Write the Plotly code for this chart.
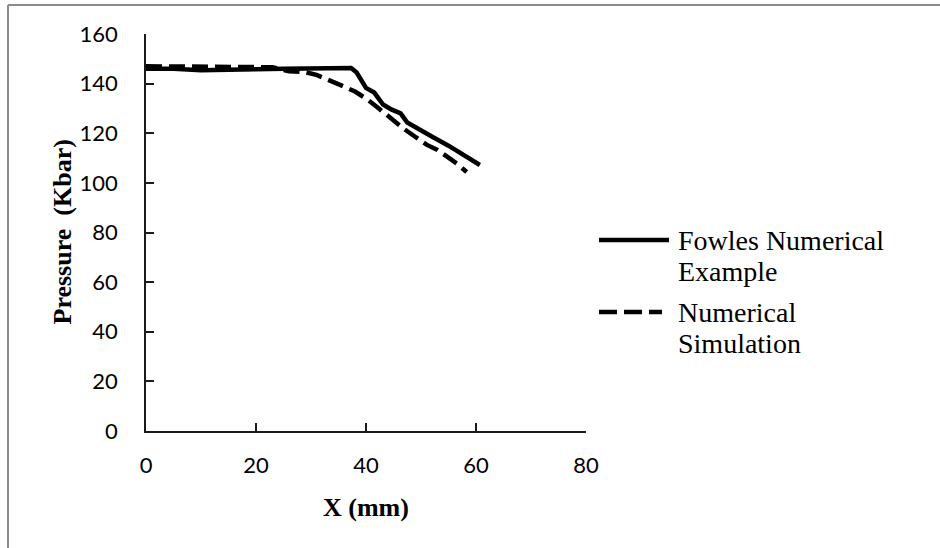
import plotly.graph_objects as go

# ---- data ----
fowles_x = [0, 5, 10, 15, 20, 25, 30, 35, 37.3, 38.3, 40, 41.5, 43.1, 44.6, 46.3, 47.5, 50, 52.2, 55, 57.5, 60.7]
fowles_y = [146, 146, 145.4, 145.4, 145.8, 146, 146, 146, 146.3, 144.5, 138.3, 136.4, 131.6, 129.6, 128, 124.3, 121, 118.4, 115, 111.5, 107.2]

sim_x = [0, 5, 10, 15, 20, 23, 26, 29, 31, 33, 35.5, 38, 40, 42, 44, 45.5, 47, 49, 51, 53, 55, 56.5, 58.3]
sim_y = [147, 147, 147, 147, 147, 146.6, 145, 144.6, 143.5, 141.8, 139.3, 136.8, 134, 130.6, 126.8, 124.3, 121.6, 118.5, 115.4, 113.3, 110.4, 107.8, 104.4]

x_ticks = [0, 20, 40, 60, 80]
y_ticks = [0, 20, 40, 60, 80, 100, 120, 140, 160]

series_names = ["Fowles Numerical Example", "Numerical Simulation"]

# ---- figure ----
W, H = 940, 548
L, R, T, B = 146, 354, 34, 117
pw, ph = W - L - R, H - T - B


def px_x(px):
    return (px - L) / pw


def px_y(py):
    return (H - B - py) / ph


fig = go.Figure()
fig.add_trace(go.Scatter(x=fowles_x, y=fowles_y, mode="lines", name=series_names[0],
                         line=dict(color="black", width=4.5), showlegend=False))
fig.add_trace(go.Scatter(x=sim_x, y=sim_y, mode="lines", name=series_names[1],
                         line=dict(color="black", width=4.5, dash="16px,7px"), showlegend=False))

tick_font = dict(family="Lato, Carlito, Calibri, sans-serif", size=22, color="black")

fig.update_layout(
    width=W, height=H,
    margin=dict(l=L, r=R, t=T, b=B, autoexpand=False),
    paper_bgcolor="white", plot_bgcolor="white",
    showlegend=False,
    xaxis=dict(range=[0, 80], tickvals=x_ticks, ticktext=[str(v) for v in x_ticks],
               showgrid=False, zeroline=False, showline=True, linecolor="#1a1a1a", linewidth=1.5,
               ticks="inside", ticklen=8, tickwidth=1.5, tickcolor="#1a1a1a",
               tickfont=tick_font, ticklabelstandoff=14, automargin=False),
    yaxis=dict(range=[0, 160], tickvals=y_ticks, ticktext=[str(v) for v in y_ticks],
               showgrid=False, zeroline=False, showline=True, linecolor="#1a1a1a", linewidth=1.5,
               ticks="inside", ticklen=8, tickwidth=1.5, tickcolor="#1a1a1a",
               tickfont=tick_font, ticklabelstandoff=22, automargin=False),
)

serif = "Liberation Serif, Times New Roman, serif"

annotations = [
    dict(text="<b>X (mm)</b>", x=0.5, y=px_y(507), xref="paper", yref="paper",
         xanchor="center", yanchor="middle", showarrow=False,
         font=dict(family=serif, size=26, color="black")),
    dict(text="<b>Pressure \u00a0(Kbar)</b>", x=px_x(62), y=0.5, xref="paper", yref="paper",
         xanchor="center", yanchor="middle", textangle=-90, showarrow=False,
         font=dict(family=serif, size=26, color="black")),
]
legend_lines = [("Fowles Numerical", 240), ("Example", 271), ("Numerical", 312), ("Simulation", 343)]
for txt, yc in legend_lines:
    annotations.append(dict(text=txt, x=px_x(676), y=px_y(yc), xref="paper", yref="paper",
                            xanchor="left", yanchor="middle", showarrow=False,
                            font=dict(family=serif, size=28, color="black")))
fig.update_layout(annotations=annotations)

shapes = [
    # legend symbols
    dict(type="line", xref="paper", yref="paper", x0=px_x(599), x1=px_x(669), y0=px_y(240), y1=px_y(240),
         line=dict(color="black", width=4.5)),
    dict(type="line", xref="paper", yref="paper", x0=px_x(599), x1=px_x(662), y0=px_y(312), y1=px_y(312),
         line=dict(color="black", width=4.5, dash="18px,7px")),
    # outer chart border (left and top visible)
    dict(type="line", xref="paper", yref="paper", x0=px_x(8), x1=px_x(8), y0=px_y(5), y1=px_y(600),
         line=dict(color="#8a8a8a", width=2)),
    dict(type="line", xref="paper", yref="paper", x0=px_x(8), x1=px_x(1000), y0=px_y(5), y1=px_y(5),
         line=dict(color="#8a8a8a", width=2)),
]
fig.update_layout(shapes=shapes)

fig.write_html("out.html")
